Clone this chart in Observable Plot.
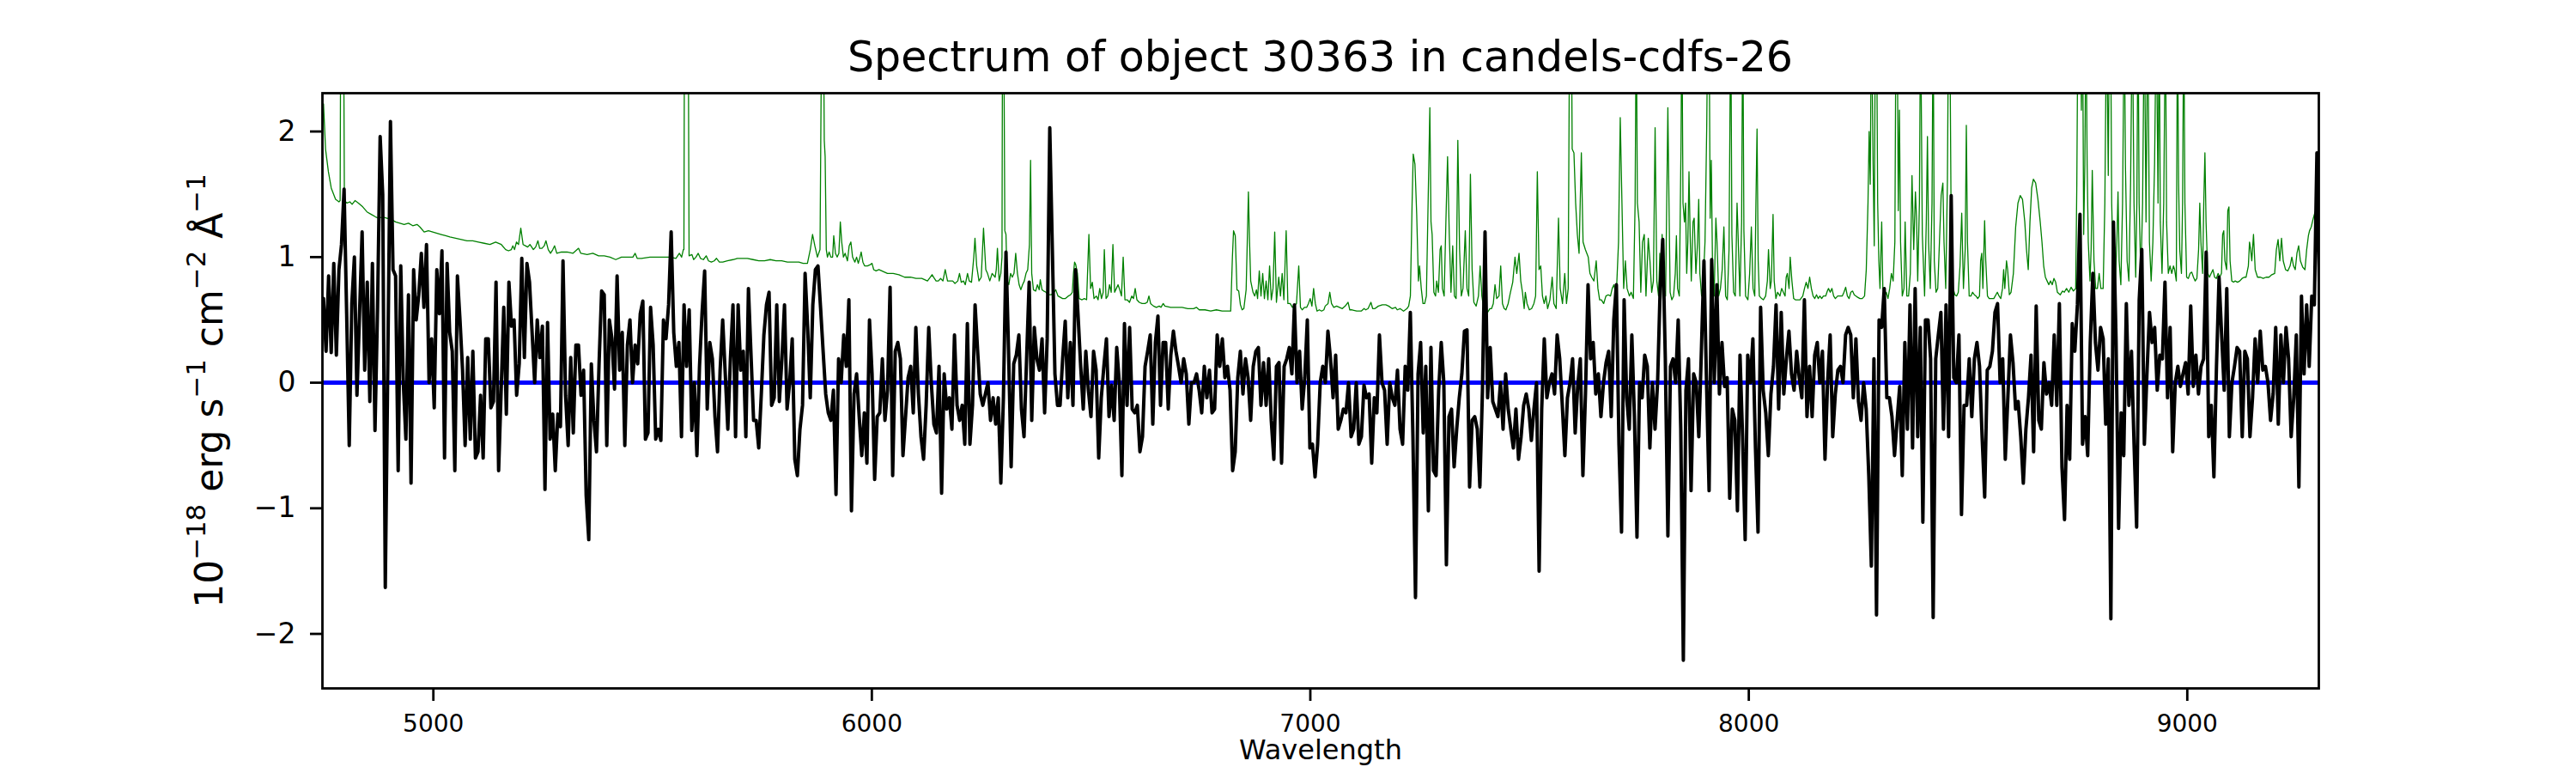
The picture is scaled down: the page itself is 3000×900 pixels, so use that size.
<!DOCTYPE html>
<html><head><meta charset="utf-8">
<script src="https://cdn.jsdelivr.net/npm/d3@7"></script>
<script src="https://cdn.jsdelivr.net/npm/@observablehq/plot@0.6"></script>
<style>
html,body{margin:0;padding:0;background:#fff;}
#wrap{width:3000px;height:900px;font-family:"DejaVu Sans",sans-serif;}
#title{height:100px;box-sizing:border-box;padding-top:42px;margin-left:375px;width:2325px;text-align:center;font-size:49px;line-height:49px;color:#000;white-space:nowrap;}
#chart svg{display:block;}
</style></head><body>
<div id="wrap"><div id="title"></div><div id="chart"></div></div>
<script>
const titleText = "Spectrum of object 30363 in candels-cdfs-26";
const xLabel = "Wavelength";
// y label pieces: [text, isSuperscript]
const yLabelParts = [["10", false], ["\u221218", true], [" erg s", false], ["\u22121", true], [" cm", false], ["\u22122", true], [" \u00C5", false], ["\u22121", true]];
const yLabel = yLabelParts.map(d => d[0]).join("");
const xTicks = [5000, 6000, 7000, 8000, 9000];
const yTicks = [-2, -1, 0, 1, 2];

// observed flux, sampled on a regular wavelength grid
const obsStart = 4749.4, obsStep = 5.8737;
const obsFlux1 = [0.67,0.25,0.85,0.24,0.95,0.22,0.9,1.1,1.54,0.55,
-0.5,0.63,1.0,-0.1,0.55,1.2,0.1,0.8,-0.15,0.95,
-0.38,0.6,1.96,1.5,-1.63,0.2,2.08,0.9,0.85,-0.7,
0.93,0.0,-0.45,0.7,-0.8,0.9,0.5,0.7,1.03,0.6,
1.1,0.0,0.35,-0.2,0.9,0.55,1.05,-0.6,0.95,0.4,
0.25,-0.7,0.85,0.5,0.1,-0.5,0.2,-0.45,0.25,-0.6,
-0.55,-0.1,-0.6,0.35,0.35,-0.2,-0.15,0.8,-0.7,-0.05,
0.6,-0.25,0.8,0.45,0.5,-0.1,0.15,0.99,0.2,0.95,
0.8,0.4,0.0,0.5,0.2,0.45,-0.85,0.48,-0.45,-0.25,
-0.7,-0.25,-0.35,0.97,-0.1,-0.5,0.2,-0.4,0.3,0.3,
-0.1,0.1,-0.9,-1.25,0.15,-0.3,-0.55,0.15,0.73,0.7,
-0.5,0.5,0.35,-0.05,0.85,0.1,0.4,-0.5,0.3,0.5,
0.0,0.3,0.15,0.55,0.65,-0.45,-0.4,0.6,0.3,-0.45];
const obsFlux2 = [-0.37,-0.46,0.5,0.35,0.62,1.2,0.4,0.13,0.32,-0.43,
0.62,0.13,0.58,-0.38,0.0,-0.58,0.13,0.56,0.89,-0.21,
0.32,0.19,-0.27,-0.55,0.1,0.5,0.07,-0.37,0.19,0.62,
-0.43,0.62,0.1,0.25,-0.43,0.75,0.22,-0.3,-0.3,-0.52,
-0.09,0.38,0.62,0.72,-0.18,-0.12,0.62,-0.15,0.19,0.62,
-0.21,0.0,0.35,-0.61,-0.74,-0.37,-0.18,0.87,0.44,-0.12,
0.62,0.9,0.93,0.6,0.25,-0.09,-0.24,-0.3,-0.06,-0.89,
0.19,0.0,0.38,0.13,0.66,-1.02,-0.09,0.07,-0.27,-0.58,
-0.24,-0.64,0.5,0.07,-0.77,-0.27,-0.24,0.19,-0.3,-0.06,
0.76,-0.74,0.25,0.32,0.19,-0.58,-0.27,0.04,0.13,-0.24,
0.44,-0.09,-0.43,-0.61,-0.18,0.44,0.0,-0.33,-0.4,0.13,
-0.88,0.07,-0.21,-0.12,-0.37,0.38,-0.18,-0.3,-0.18,-0.49,
0.47,-0.49,-0.18,0.62,0.25,-0.09,-0.18,-0.09,0.0,-0.3];
const obsFlux3 = [-0.12,-0.33,-0.12,-0.8,-0.12,1.04,0.25,-0.67,0.15,0.22,
0.38,-0.21,-0.43,0.19,0.8,-0.3,0.44,0.19,0.1,0.35,
-0.24,0.35,2.03,1.06,0.07,-0.18,-0.18,0.19,0.49,-0.12,
0.32,-0.18,0.9,0.53,0.13,-0.21,0.25,-0.06,-0.27,0.25,
0.1,-0.6,-0.12,0.13,0.35,-0.27,-0.02,-0.3,0.28,0.0,
-0.74,0.47,-0.18,0.44,-0.21,-0.24,-0.18,-0.55,-0.43,0.13,
0.25,0.38,-0.33,0.32,0.53,-0.18,0.32,0.32,-0.21,0.22,
0.41,0.25,0.13,0.0,0.19,0.07,-0.33,0.0,0.0,0.07,
-0.06,-0.24,0.13,-0.12,0.1,-0.24,-0.21,0.38,0.13,0.35,
0.04,0.13,-0.06,-0.7,-0.55,0.04,0.25,-0.09,0.19,0.04,
-0.3,0.13,0.25,0.28,-0.18,0.16,-0.18,0.19,-0.3,-0.61,
0.13,0.16,-0.64,0.13,0.19,0.28,0.07,0.62,0.0,0.25,
-0.21,0.04,0.5,-0.52,-0.49,-0.75,-0.49,0.0,0.13,0.0];
const obsFlux4 = [0.41,0.19,-0.12,0.22,-0.37,-0.3,-0.21,-0.24,0.0,-0.43,
-0.37,0.0,-0.49,-0.43,-0.02,-0.12,-0.09,-0.64,-0.12,-0.24,
0.38,0.0,-0.06,-0.49,0.0,-0.12,-0.18,0.1,-0.37,-0.49,
0.13,-0.06,0.56,-0.43,-1.71,0.07,0.32,-0.4,0.13,-1.02,
0.28,-0.7,-0.74,-0.06,0.32,0.0,-1.45,-0.27,-0.21,-0.67,
-0.37,-0.12,0.07,0.41,0.42,-0.83,-0.3,-0.27,-0.37,-0.83,
-0.06,1.2,-0.12,0.28,-0.15,-0.21,-0.27,0.0,-0.37,0.07,
-0.21,-0.37,-0.52,-0.21,-0.61,-0.43,-0.18,-0.09,-0.21,-0.46,
-0.21,0.0,-1.5,-0.21,0.35,-0.12,0.0,0.07,-0.09,0.38,
0.19,-0.18,-0.58,-0.12,0.0,0.19,-0.4,-0.02,0.19,-0.74,
-0.09,0.78,0.19,0.32,-0.09,0.07,-0.27,0.0,0.16,0.25,
-0.27,0.5,0.78,-0.49,-1.19,0.66,-0.12,-0.37,0.38,-0.27,
-1.23,0.0,-0.12,0.22,0.13,-0.52,0.0,-0.37,0.0,0.75];
const obsFlux5 = [1.14,0.19,-1.22,0.13,0.19,0.0,0.5,-0.37,-2.21,-0.06,
0.19,-0.86,0.07,0.0,-0.43,0.25,0.97,0.0,-0.86,0.98,
0.0,0.78,-0.09,0.32,-0.03,0.04,-0.92,-0.21,-0.3,-1.02,
0.22,-0.43,-1.25,0.22,0.0,0.35,-0.52,-1.19,0.6,-0.06,
-0.24,-0.58,-0.09,0.13,0.62,-0.21,0.56,-0.09,0.19,0.41,
0.07,-0.06,0.25,0.04,-0.12,0.66,-0.27,0.13,-0.27,0.22,
0.32,0.0,0.25,-0.61,0.0,0.38,-0.43,-0.09,0.1,0.13,
0.0,0.38,0.44,0.38,-0.12,0.35,-0.15,-0.3,0.0,-0.21,
-0.74,-1.46,0.19,-1.85,0.5,0.44,0.75,-0.12,-0.12,-0.27,
-0.58,-0.3,-0.03,-0.74,0.32,-0.37,0.62,-0.52,0.75,-0.43,
0.44,-1.11,0.5,0.5,0.19,-1.87,0.19,0.38,0.56,-0.37,
0.62,-0.43,1.49,0.04,0.0,0.38,-1.05,-0.18,-0.18,0.19,
-0.27,0.19,0.32,0.13,-0.43,-0.91,0.1,0.13,0.25,0.56];
const obsFlux6 = [0.63,0.0,0.19,-0.61,-0.12,0.38,0.16,-0.21,-0.15,-0.43,
-0.8,-0.37,-0.12,0.22,-0.55,0.61,-0.3,-0.37,0.16,-0.09,
0.0,-0.18,0.38,-0.18,0.63,-0.67,-1.09,-0.18,-0.61,0.47,
0.25,0.62,1.34,-0.49,-0.27,-0.58,0.32,0.87,0.32,0.1,
0.44,0.35,-0.33,0.19,-1.88,1.28,0.35,-1.16,-0.24,-0.58,
0.63,-0.18,0.25,-0.49,-1.15,0.66,1.06,-0.49,0.07,0.56,
0.32,0.44,-0.06,0.22,0.19,0.8,-0.12,0.44,-0.55,0.0,
0.13,-0.03,0.07,0.16,-0.09,0.61,-0.03,0.22,-0.09,0.13,
0.19,1.04,-0.43,-0.18,-0.75,0.13,0.84,0.38,-0.06,0.75,
-0.43,0.0,0.13,0.28,0.25,-0.43,0.25,0.19,-0.43,-0.12,
0.35,0.0,0.41,0.1,0.13,0.0,-0.3,-0.09,0.44,-0.33,
0.38,0.0,0.44,0.19,-0.43,-0.12,0.38,-0.83,0.69,0.07,
0.62,0.13,0.69,0.62,1.83,0.7];

// green spectrum: [wavelength, value]
const errA = [[4749.5,2.22],[4754.1,1.86],[4760.6,1.68],[4767.1,1.55],[4776.9,1.46],[4784.7,1.44],[4787.4,1.45],[4788.7,3.0],[4795.2,3.0],[4797.1,1.45],[4803,1.43],[4809.5,1.44],[4814.7,1.42],[4821.3,1.45],[4829.1,1.43],[4838.9,1.40],[4848.6,1.36],[4858.4,1.34],[4868.2,1.32],[4874.7,1.31],[4884.5,1.32],[4894.3,1.31],[4904.1,1.30],[4913.8,1.28],[4923.6,1.27],[4933.4,1.26],[4943.2,1.27],[4953,1.25],[4962.7,1.26],[4969.3,1.24],[4979,1.20],[4988.8,1.21],[4998.6,1.20],[5008.4,1.19],[5018.2,1.18],[5027.9,1.17],[5037.7,1.16],[5050.8,1.15],[5063.8,1.14],[5076.8,1.13],[5089.9,1.13],[5102.9,1.12],[5116,1.11],[5129,1.10],[5142,1.12],[5155,1.10],[5164.9,1.06],[5171.4,1.05],[5177.9,1.06],[5181.2,1.09],[5185.1,1.06],[5189.6,1.12],[5194.2,1.10],[5199.4,1.23],[5204.6,1.10],[5209.8,1.09],[5215.1,1.08],[5220.3,1.10],[5224.2,1.08],[5228.1,1.06],[5233.3,1.08],[5238.5,1.13],[5242.4,1.07],[5247.7,1.07],[5252.9,1.09],[5256.8,1.13],[5262,1.06],[5267.2,1.03],[5272.4,1.06],[5276.4,1.09],[5281.6,1.03],[5292,1.04],[5305,1.04],[5318.1,1.03],[5327.9,1.06],[5331.1,1.07],[5336.3,1.03],[5350.7,1.02],[5363.7,1.03],[5376.8,1.01],[5389.8,1.01],[5402.8,1.00],[5415.9,0.98],[5428.9,1.00],[5441.9,1.00],[5455,1.00],[5460.2,1.03],[5464.8,0.99],[5474.6,0.99],[5494.1,1.00],[5513.7,1.00]];
const errB = [[5527.1,1.00],[5540.1,1.00],[5553.2,0.99],[5561,1.03],[5566.2,1.00],[5570.1,1.06],[5571.4,1.06],[5572.7,3.0],[5581.2,3.0],[5583.2,1.01],[5589.7,1.02],[5593.6,0.98],[5598.8,1.00],[5604,1.03],[5609.2,0.99],[5615.8,0.98],[5622.3,1.01],[5627.5,0.97],[5634,0.96],[5640.5,0.97],[5645.7,0.99],[5652.3,0.96],[5660.1,0.96],[5670.5,0.97],[5683.6,0.98],[5693.3,0.99],[5703.1,0.99],[5716.2,0.99],[5729.2,0.98],[5742.2,0.97],[5755.3,0.97],[5768.3,0.98],[5781.4,0.97],[5794.4,0.97],[5807.4,0.96],[5820.5,0.96],[5833.5,0.96],[5843.3,0.95],[5853.1,0.95],[5859.6,1.06],[5864.8,1.18],[5870,1.09],[5875.9,1.00],[5881.8,1.06],[5885.7,3.0],[5889.6,3.0],[5891.5,1.93],[5893.5,1.80],[5896.1,1.06],[5898.7,1.00],[5902.6,1.04],[5906.5,1.00],[5910.5,1.00],[5913.1,1.17],[5917,1.03],[5920.9,1.00],[5924.8,1.03],[5928.1,1.28],[5931.3,1.12],[5935.2,1.00],[5939.1,1.03],[5944.4,0.97],[5948.3,1.09],[5952.2,1.12],[5956.1,1.00],[5961.3,0.96],[5965.2,1.00],[5969.1,0.95],[5973,1.00],[5975.7,1.04],[5979.6,0.96],[5983.5,0.93],[5990,0.93],[5996.5,0.94],[6000.4,0.95],[6004.3,0.90],[6009.6,0.89],[6016.1,0.90],[6022.6,0.89],[6029.1,0.88],[6035.6,0.87],[6042.2,0.87],[6048.7,0.87],[6061.7,0.86],[6074.8,0.84],[6087.8,0.84],[6100.8,0.83],[6113.9,0.83],[6126.9,0.81],[6133.4,0.84],[6137.4,0.86],[6142.6,0.83],[6146.5,0.81],[6151.7,0.81],[6156.9,0.83],[6162.1,0.81],[6167.3,0.90],[6172.6,0.81],[6179.1,0.81],[6184.3,0.81],[6189.5,0.79],[6196,0.81],[6199.9,0.87],[6203.9,0.80],[6209.1,0.81],[6213,0.78],[6218.2,0.87],[6222.1,0.81],[6227.3,0.80],[6232.5,1.00],[6235.2,1.15],[6239.1,0.93],[6244.3,0.81],[6249.5,0.84],[6254.7,1.23],[6259.9,0.90],[6263.8,0.87],[6269,0.81],[6274.3,0.87]];
const errC = [[6281.2,0.84],[6283.8,0.90],[6286.4,1.07],[6290.3,0.81],[6294.2,0.87],[6296.8,1.00],[6298.1,3.0],[6300.7,3.0],[6303.3,1.21],[6305.9,1.18],[6308.5,0.81],[6312.4,0.78],[6316.4,0.87],[6320.3,0.84],[6324.2,0.87],[6328.1,1.03],[6332,0.87],[6335.9,0.78],[6339.8,0.74],[6343.7,0.78],[6347.7,0.81],[6351.6,0.87],[6355.5,0.90],[6359.4,1.10],[6362,1.77],[6364.6,0.87],[6368.5,0.74],[6373.7,0.73],[6377.6,0.78],[6381.6,0.74],[6384.2,0.82],[6388.1,0.74],[6392,0.73],[6397.2,0.72],[6402.4,0.70],[6409,0.70],[6415.5,0.72],[6419.4,0.74],[6424.6,0.69],[6429.8,0.68],[6435,0.67],[6441.5,0.67],[6448.1,0.69],[6453.3,0.70],[6457.2,0.72],[6459.8,0.87],[6462.4,0.96],[6465,0.94],[6468.9,0.87],[6472.8,0.67],[6479.4,0.66],[6484.6,0.67],[6489.8,0.66],[6495,1.18],[6498.9,0.75],[6502.8,0.80],[6506.7,0.67],[6512,0.69],[6515.9,0.66],[6519.8,0.75],[6523.7,0.67],[6527.6,0.72],[6530.2,1.06],[6534.1,0.67],[6538.1,0.69],[6542,0.78],[6545.9,0.72],[6549.8,1.10],[6553.7,0.72],[6557.6,0.75],[6561.5,0.78],[6565.4,0.74],[6569.3,0.69],[6573.2,1.00],[6577.2,0.66],[6582.4,0.66],[6587.6,0.64],[6592.8,0.69],[6596.7,0.67],[6600.6,0.75],[6604.5,0.66],[6609.8,0.64],[6616.3,0.63],[6622.8,0.63],[6628,0.64],[6631.9,0.69],[6635.8,0.63],[6642.4,0.61],[6648.9,0.60],[6655.4,0.61],[6659.3,0.60],[6664.5,0.63],[6668.4,0.61],[6681.5,0.60],[6694.5,0.60],[6707.6,0.60],[6720.6,0.59],[6733.6,0.59],[6740.2,0.60],[6746.7,0.58],[6759.7,0.58],[6772.8,0.57],[6785.8,0.58],[6798.8,0.57],[6811.9,0.57],[6818.4,0.57],[6822.3,1.00],[6824.9,1.21],[6828.8,1.17],[6832.7,0.74],[6836.7,0.73],[6840.6,0.62],[6844.5,0.58],[6848.4,0.59],[6853.6,0.74],[6856.2,1.12],[6858.8,1.52],[6861.4,1.12],[6864,0.81],[6869.3,0.72],[6873.2,0.69],[6877.1,0.74],[6879.7,0.67],[6883.6,0.89],[6887.5,0.69],[6891.4,0.87],[6895.3,0.67],[6899.2,0.81],[6903.2,0.66],[6907.1,0.93],[6911,0.66],[6914.9,0.75],[6918.8,1.20],[6922.7,0.64],[6928,0.84],[6931.9,0.69],[6935.8,0.87],[6939.7,0.66],[6944.9,1.21],[6948.8,0.63],[6954,0.63],[6959.2,0.60],[6963.1,0.61],[6968.4,0.63],[6973.6,0.93],[6977.5,0.60],[6981.4,0.58],[6986.6,0.60],[6991.8,0.60],[6995.7,0.63],[6999.7,0.67],[7003.6,0.61],[7007.5,0.75],[7011.4,0.63],[7015.3,0.57],[7020.5,0.58],[7025.7,0.57],[7030.9,0.58]];
const errD = [[7033.9,0.61],[7040.4,0.63],[7044.4,0.72],[7048.3,0.63],[7053.5,0.60],[7060,0.61],[7066.5,0.60],[7073,0.59],[7079.6,0.61],[7086.1,0.64],[7090,0.58],[7095.2,0.58],[7105.6,0.57],[7116.1,0.57],[7122.6,0.59],[7126.5,0.58],[7131.7,0.59],[7138.2,0.64],[7142.2,0.59],[7147.4,0.59],[7155.2,0.61],[7164.3,0.62],[7172.1,0.62],[7178.7,0.61],[7186.5,0.59],[7194.3,0.60],[7198.2,0.58],[7204.7,0.59],[7212.6,0.57],[7220.4,0.59],[7224.3,0.61],[7228.2,0.69],[7232.1,1.43],[7234.7,1.82],[7238.6,1.74],[7242.6,1.34],[7246.5,0.81],[7249.1,0.93],[7253,0.75],[7256.9,0.63],[7260.8,0.63],[7264.7,0.69],[7268.6,1.43],[7272.6,2.19],[7275.2,1.28],[7277.8,1.18],[7281.7,0.72],[7285.6,0.69],[7288.2,0.81],[7292.1,0.72],[7296,1.06],[7298.6,1.09],[7301.2,0.75],[7305.2,0.69],[7309.1,1.27],[7313,1.80],[7316.9,1.18],[7320.8,0.72],[7324.7,1.09],[7328.6,0.69],[7332.5,0.67],[7336.4,1.93],[7340.4,1.06],[7344.3,0.69],[7348.2,0.75],[7353.4,1.21],[7357.3,0.75],[7361.2,0.69],[7365.1,1.66],[7369,0.90],[7373,0.64],[7378.2,0.61],[7383.4,0.69],[7387.3,0.93],[7391.2,0.69],[7395.1,0.60],[7399,0.58],[7404.3,0.56],[7409.5,0.59],[7413.4,0.59],[7417.3,0.63],[7421.2,0.78],[7425.1,0.67],[7430.3,0.69],[7434.2,0.93],[7438.2,0.63],[7442.1,0.59],[7446,0.58],[7451.2,0.63],[7456.4,0.72],[7461.6,0.80],[7466.8,1.00],[7470.8,0.87],[7476,1.03],[7479.9,0.81],[7483.8,0.72],[7487.7,0.59],[7490.3,0.72],[7494.2,0.63],[7499.4,0.58],[7504.7,0.59],[7509.9,0.63],[7513.8,0.69],[7517.7,1.68],[7521.6,0.90],[7525.5,0.93],[7529.4,0.69],[7533.4,0.63],[7537.3,0.69],[7541.2,0.59],[7546.4,0.66],[7551.6,0.84],[7555.5,0.63],[7560.7,0.59],[7566,1.31],[7569.9,0.75],[7575.1,0.63],[7580.3,0.87],[7584.2,0.63],[7588.1,0.75],[7591.4,3.0],[7595.3,3.0],[7597.2,1.86],[7601.2,1.83],[7605.1,1.43],[7609,1.18],[7612.9,1.03],[7618.1,1.83],[7622,1.12],[7627.2,1.06],[7633.8,1.00],[7637.7,0.87],[7641.6,0.84],[7646.8,0.81],[7652,0.97],[7655.9,0.75],[7659.8,0.66],[7663.8,0.66],[7669,0.63],[7674.2,0.69],[7679.4,0.70],[7684.6,0.69],[7688.5,0.75],[7692.4,0.78],[7697.7,0.69],[7702.9,1.12],[7706.8,2.11],[7710.7,1.43],[7714.6,0.75],[7718.5,0.97],[7722.4,0.75],[7727.6,0.69],[7731.6,0.72],[7736.8,0.67],[7740.7,1.43],[7743.3,3.0],[7745.9,1.43],[7749.8,1.28],[7753.7,0.72],[7757.6,1.12],[7761.6,1.18],[7765.5,0.69],[7770.7,1.15],[7774.6,0.97],[7778.5,0.72],[7782.4,0.81],[7786.3,2.03],[7790.2,0.81],[7794.2,0.69]];
const errE = [[7797.1,1.03],[7799.7,0.66],[7802.3,1.18],[7806.2,0.75],[7810.2,0.69],[7812.8,1.43],[7815.4,2.19],[7818,1.43],[7820.6,0.72],[7824.5,0.66],[7828.4,0.69],[7832.3,0.87],[7834.9,1.17],[7837.5,0.75],[7841.5,0.69],[7845.4,1.89],[7847.3,3.0],[7849.9,1.43],[7853.2,1.28],[7855.8,1.43],[7858.4,0.87],[7861,1.12],[7863.6,1.68],[7866.2,1.18],[7868.8,0.81],[7872.8,1.28],[7875.4,1.31],[7879.3,0.87],[7883.2,1.12],[7885.8,1.46],[7888.4,0.87],[7892.3,0.69],[7896.2,0.81],[7900.1,1.12],[7904.1,2.05],[7906.7,3.0],[7909.3,3.0],[7911.9,1.31],[7914.5,1.77],[7917.1,0.97],[7921,0.69],[7924.9,1.31],[7927.5,1.12],[7931.4,0.69],[7935.3,0.75],[7939.3,0.90],[7943.2,1.24],[7947.1,0.69],[7951,0.66],[7954.9,1.06],[7958.8,3.0],[7961.4,1.18],[7965.3,0.72],[7969.2,0.69],[7973.2,1.43],[7975.8,1.15],[7979.7,0.69],[7983.6,1.28],[7986.2,3.0],[7988.8,1.21],[7992.7,0.69],[7998,0.66],[8001.9,0.87],[8005.8,1.24],[8009.7,0.75],[8013.6,0.69],[8016.2,1.43],[8018.8,2.02],[8021.4,0.97],[8024,0.69],[8029.2,0.67],[8033.1,0.66],[8038.4,0.69],[8042.3,0.81],[8044.9,1.06],[8048.8,0.75],[8051.4,0.81],[8055.3,1.34],[8057.9,0.81],[8061.8,0.67],[8065.7,0.72],[8071,0.69],[8074.9,0.75],[8078.8,0.72],[8082.7,0.69],[8085.3,0.84],[8087.9,0.87],[8091.8,0.75],[8094.4,1.00],[8098.3,0.81],[8102.3,0.67],[8106.2,0.66],[8110.1,0.66],[8116.6,0.66],[8123.1,0.69],[8127,0.75],[8130.9,0.80],[8134.9,0.75],[8138.8,0.84],[8142.7,0.75],[8146.6,0.69],[8150.5,0.67],[8154.4,0.70],[8158.3,0.67],[8162.2,0.69],[8166.2,0.67],[8170.1,0.69],[8175.3,0.69],[8179.2,0.73],[8181.8,0.75],[8185.7,0.72],[8189.6,0.75],[8193.5,0.69],[8197.4,0.67],[8202.7,0.69],[8207.9,0.69],[8213.1,0.69],[8217,0.72],[8220.9,0.76],[8224.8,0.69],[8228.7,0.67],[8232.7,0.72],[8236.6,0.73],[8240.5,0.70],[8244.4,0.69],[8248.3,0.68],[8253.5,0.67],[8258.7,0.67],[8264,0.69],[8267.9,0.90],[8271.8,1.43],[8274.4,2.00],[8277,1.58],[8279.6,3.0],[8283.5,1.74],[8286.1,1.09],[8288.7,3.0],[8291.3,3.0],[8293.9,1.43],[8296.6,0.97],[8299.2,0.75],[8303.1,1.28],[8305.7,0.75],[8309.6,0.69],[8313.5,0.72],[8317.4,0.67],[8321.3,0.75],[8325.2,0.87],[8329.2,0.81],[8333.1,1.12],[8335.7,3.0],[8338.3,3.0],[8340.9,1.37],[8343.5,2.17],[8346.1,1.12],[8350,0.69],[8353.9,0.75],[8356.5,1.28],[8360.4,0.69],[8364.4,0.69],[8368.3,0.87],[8372.2,1.65],[8376.1,1.06],[8380,1.52],[8382.6,1.31],[8385.2,0.81],[8389.1,1.43],[8391.7,3.0],[8395.7,1.18],[8400.9,0.69],[8404.8,1.28],[8407.4,1.96],[8410,1.12],[8413.9,0.75],[8417.8,1.43],[8420.4,3.0],[8423,0.97],[8427,0.72],[8430.9,0.75],[8434.8,1.12],[8438.7,1.49],[8442.6,1.59],[8445.2,1.12],[8449.1,0.75],[8453,1.62],[8455.6,3.0],[8458.2,3.0],[8462.2,0.87],[8466.1,0.75],[8470,0.70],[8473.9,0.69],[8477.8,0.72],[8481.7,0.93],[8485.6,1.35],[8489.5,0.75],[8493.5,1.06],[8496.1,2.05],[8498.7,1.12],[8502.6,0.69],[8506.5,0.69],[8510.4,0.72],[8514.3,0.70],[8518.2,0.69],[8522.1,0.67],[8526.1,0.69],[8528.7,0.97],[8531.3,1.03],[8533.9,0.75],[8537.8,1.29],[8540.4,0.97],[8544.3,0.69],[8548.2,0.67],[8553.4,0.67],[8558.7,0.67]];
const errF = [[8566.8,0.72],[8570.8,0.69],[8574.7,0.67],[8578.6,0.75],[8581.2,0.90],[8583.8,0.75],[8587.7,0.97],[8590.3,0.90],[8594.2,0.70],[8598.1,0.72],[8603.4,0.87],[8608.6,1.24],[8613.8,1.43],[8619,1.49],[8624.2,1.46],[8629.4,1.28],[8633.3,1.06],[8637.3,0.90],[8641.2,1.28],[8645.1,1.55],[8649,1.62],[8654.2,1.59],[8659.4,1.46],[8664.6,1.28],[8668.6,1.12],[8672.5,0.93],[8676.4,0.84],[8680.3,0.81],[8684.2,0.78],[8688.1,0.81],[8692,0.78],[8695.9,0.83],[8699.8,0.80],[8703.8,0.72],[8710.3,0.70],[8715.5,0.73],[8719.4,0.72],[8724.6,0.75],[8729.8,0.72],[8735,0.76],[8740.3,0.73],[8745.5,0.75],[8748.1,1.59],[8750.7,3.0],[8755.9,3.0],[8758.5,2.17],[8761.1,3.0],[8763.7,1.18],[8766.4,1.74],[8769,3.0],[8771.6,1.74],[8774.2,1.12],[8778.1,0.81],[8780.7,1.06],[8783.3,1.69],[8787.2,0.97],[8791.1,0.75],[8795,0.75],[8799,0.87],[8802.9,0.75],[8808.1,0.75],[8812,1.43],[8815.9,3.0],[8819.8,1.65],[8822.4,3.0],[8825,3.0],[8827.6,1.43],[8831.6,0.81],[8835.5,0.75],[8839.4,1.12],[8842,1.52],[8844.6,0.97],[8848.5,0.78],[8852.4,1.43],[8856.3,3.0],[8858.9,1.74],[8862.8,0.97],[8866.8,0.81],[8870.7,1.59],[8874.6,3.0],[8878.5,1.43],[8882.4,0.84],[8885,1.43],[8887.6,3.0],[8890.2,1.43],[8894.1,0.83],[8898.1,1.43],[8902,3.0],[8905.9,1.28],[8909.8,3.0],[8913.7,1.12],[8917.6,0.81],[8921.5,1.12],[8925.4,1.74],[8929.4,3.0],[8933.3,1.43],[8935.9,3.0],[8938.5,1.28],[8942.4,0.87],[8946.3,1.43],[8950.2,3.0],[8952.8,1.28],[8956.7,0.87],[8960.6,0.93],[8964.6,0.87],[8968.5,0.93],[8971.1,0.90],[8975,0.81],[8977.6,3.0],[8980.2,1.59],[8982.8,1.06],[8986.7,0.87],[8989.3,1.43],[8991.9,3.0],[8994.6,1.43],[8998.5,0.84],[9002.4,0.83],[9006.3,0.87],[9010.2,0.88],[9014.1,0.84],[9018,0.81],[9021.9,0.83],[9025.8,1.06],[9028.5,1.43],[9031.1,1.12],[9035,0.87],[9037.6,1.43],[9040.2,1.83],[9042.8,1.28],[9046.7,0.87],[9050.6,0.84],[9054.5,0.87],[9058.4,0.90],[9062.4,0.84],[9066.3,0.83],[9070.2,0.87],[9074.1,0.84],[9078,0.87],[9080.6,1.18],[9083.2,1.21],[9085.8,0.97],[9089.7,0.90],[9092.4,1.37],[9095,1.40],[9097.6,0.97],[9101.5,0.81],[9105.4,0.80],[9109.3,0.81],[9114.5,0.80],[9119.7,0.81],[9124.9,0.83],[9130.2,0.84],[9134.1,0.84],[9139.3,0.93],[9141.9,1.12],[9144.5,1.06],[9147.1,0.97],[9151,1.18],[9154.9,0.90],[9160.2,0.84],[9166.7,0.84],[9173.2,0.83],[9179.7,0.84],[9186.2,0.84],[9192.8,0.86],[9199.3,0.87],[9203.2,1.06],[9207.1,1.14],[9211,0.97],[9214.9,1.15],[9218.8,0.97],[9224.1,0.90],[9229.3,0.89],[9234.5,0.93],[9238.4,1.00],[9242.3,0.93],[9246.2,0.90],[9250.1,1.03],[9254,1.09],[9258,0.97],[9263.2,0.92],[9268.4,0.90],[9272.3,1.06],[9276.2,1.17],[9278.8,1.21],[9282.7,1.24],[9286.7,1.30],[9290.6,1.35],[9295.8,1.40]];

const obsFlux = [...obsFlux1, ...obsFlux2, ...obsFlux3, ...obsFlux4, ...obsFlux5, ...obsFlux6];
const obs = obsFlux.map((f, i) => ({w: obsStart + i * obsStep, f}));
const err = [...errA, ...errB, ...errC, ...errD, ...errE, ...errF].map(([w, f]) => ({w, f}));

document.getElementById("title").textContent = titleText;

const fmtY = d => d < 0 ? "\u2212" + Math.abs(d) : String(d);

const chart = Plot.plot({
  width: 3000,
  height: 800,
  marginTop: 8,
  marginBottom: 99,
  marginLeft: 375,
  marginRight: 300,
  style: {fontFamily: "DejaVu Sans", background: "white", color: "black"},
  x: {domain: [4747, 9300]},
  y: {domain: [-2.434, 2.305]},
  marks: [
    Plot.ruleY([0], {stroke: "#0000ff", strokeWidth: 5}),
    Plot.line(err, {x: "w", y: "f", stroke: "#008000", strokeWidth: 1.3, clip: true}),
    Plot.line(obs, {x: "w", y: "f", stroke: "black", strokeWidth: 4, clip: true}),
    Plot.frame({stroke: "black", strokeWidth: 2.8}),
    Plot.axisX({ticks: xTicks, tickSize: 15, tickPadding: 16, fontSize: 28, tickFormat: d => String(d), label: null, strokeWidth: 2.8}),
    Plot.axisY({ticks: yTicks, tickSize: 14, tickPadding: 17, fontSize: 33, tickFormat: fmtY, label: null, strokeWidth: 2.8}),
    Plot.text([xLabel], {text: d => d, frameAnchor: "bottom", dy: 60, lineAnchor: "top", fontSize: 32, fill: "black"}),
    Plot.text([yLabel], {text: d => d, frameAnchor: "left", dx: -131, rotate: -90, textAnchor: "middle", fontSize: 44, fill: "black"})
  ]
});

// render the y label with proper superscripts (as real text, tspans)
for (const t of chart.querySelectorAll("text")) {
  if (t.textContent === yLabel) {
    while (t.firstChild) t.removeChild(t.firstChild);
    let raised = false;
    for (const [s, sup] of yLabelParts) {
      const ts = document.createElementNS("http://www.w3.org/2000/svg", "tspan");
      ts.textContent = s;
      if (sup) { ts.setAttribute("font-size", "70%"); if (!raised) { ts.setAttribute("dy", "-0.62em"); raised = true; } }
      else if (raised) { ts.setAttribute("dy", "0.434em"); raised = false; }
      t.appendChild(ts);
    }
  }
}
document.getElementById("chart").appendChild(chart);
</script>
</body></html>
